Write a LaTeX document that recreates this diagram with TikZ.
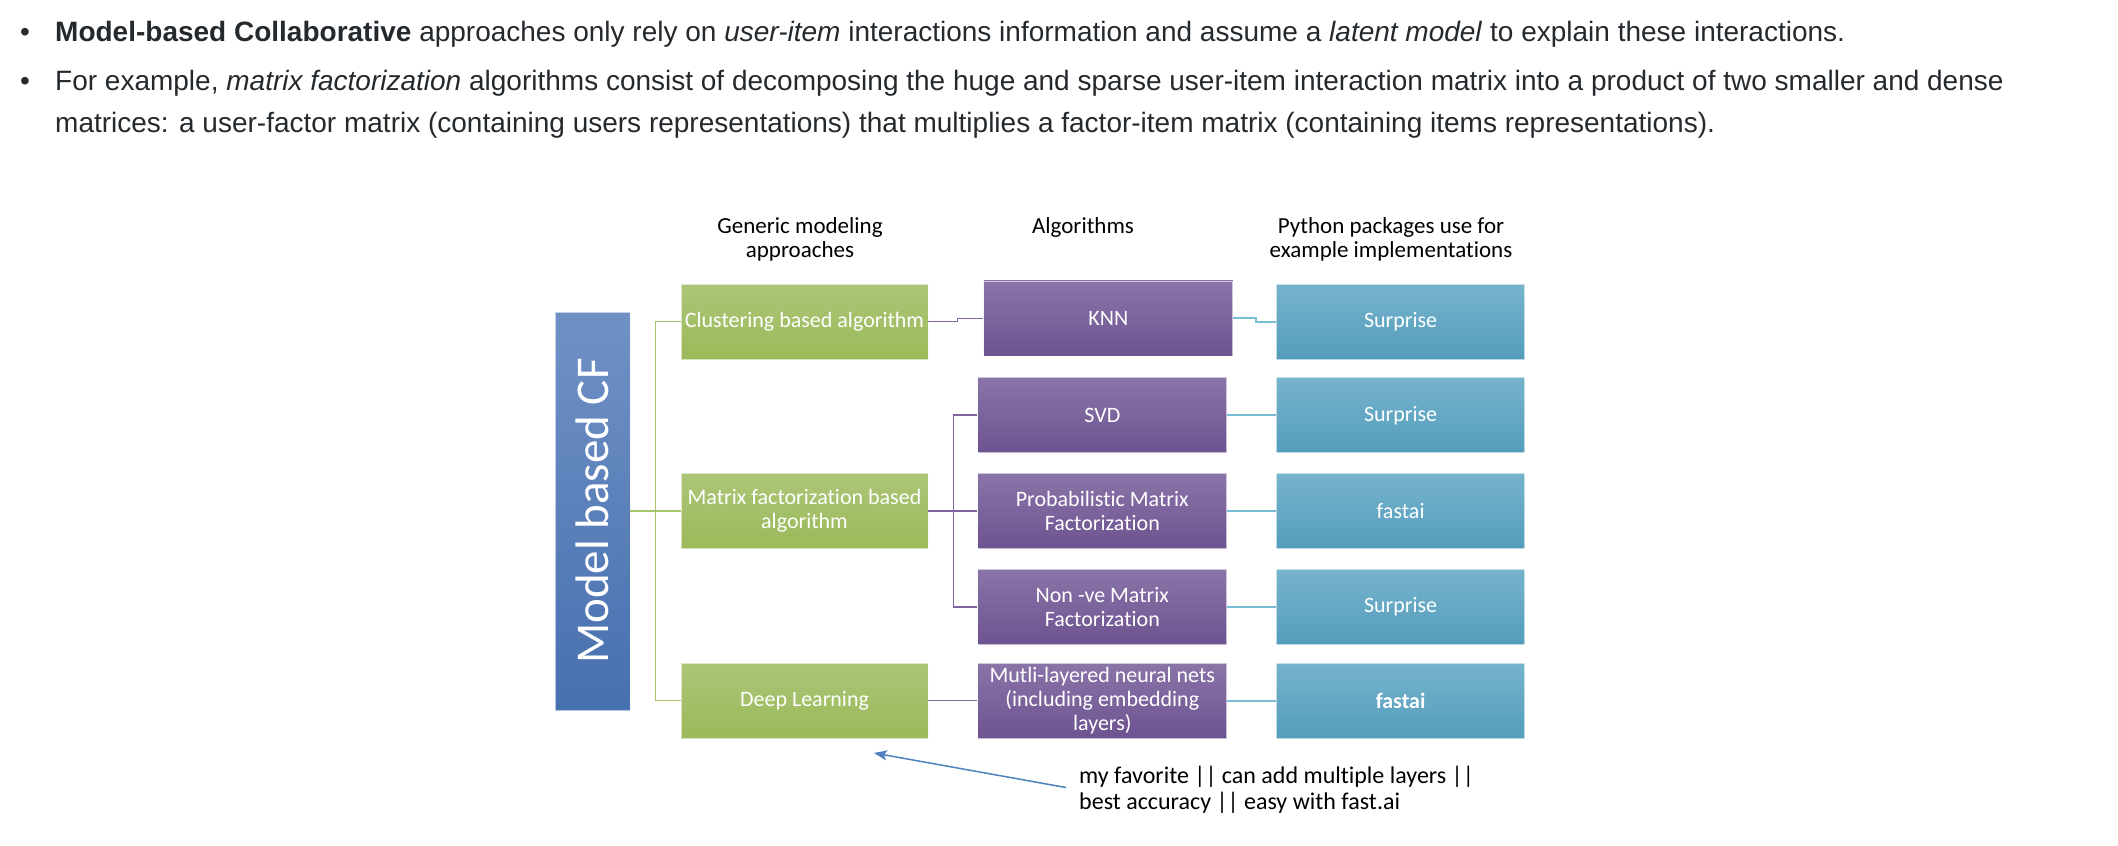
\documentclass[tikz,border=0pt]{standalone}
\usepackage{fontspec}
\setmainfont{Liberation Sans}
\newfontfamily\calibri[Ligatures=NoCommon]{Carlito}
\usetikzlibrary{positioning,arrows.meta}
\definecolor{txtgray}{RGB}{36,41,46}
\definecolor{grtop}{RGB}{172,197,120}
\definecolor{grbot}{RGB}{155,186,89}
\definecolor{putop}{RGB}{138,116,168}
\definecolor{pubot}{RGB}{109,83,144}
\definecolor{bltop}{RGB}{118,179,205}
\definecolor{blbot}{RGB}{84,157,187}
\definecolor{cftop}{RGB}{112,145,197}
\definecolor{cfbot}{RGB}{71,112,175}
\definecolor{grline}{RGB}{165,196,110}
\definecolor{puline}{RGB}{128,100,162}
\definecolor{blline}{RGB}{122,190,214}
\definecolor{arrowblue}{RGB}{79,129,189}

\begin{document}
\begin{tikzpicture}[x=1pt, y=-1pt, node distance=20pt and 49pt,
  para/.style={inner sep=0, text=txtgray, font=\fontsize{28}{42}\selectfont},
  box/.style={minimum height=75pt, inner sep=2pt, align=center, text=white,
    font=\calibri\fontsize{22}{24}\selectfont, draw=white, draw opacity=0.6, line width=0.8pt},
  greenbox/.style={box, minimum width=247pt, top color=grtop, bottom color=grbot},
  purplebox/.style={box, minimum width=249pt, top color=putop, bottom color=pubot},
  bluebox/.style={box, minimum width=248pt, top color=bltop, bottom color=blbot},
  cfbox/.style={minimum width=75pt, minimum height=398pt, inner sep=0, text=white,
    font=\calibri\fontsize{47}{50}\selectfont, draw=white, draw opacity=0.6, line width=0.8pt,
    top color=cftop, bottom color=cfbot},
  headtxt/.style={inner sep=0, anchor=north, align=center, font=\calibri\fontsize{23}{24}\selectfont},
  greenline/.style={draw=grline, line width=1.6pt},
  purpleline/.style={draw=puline, line width=1.6pt},
  blueline/.style={draw=blline, line width=2pt},
  notearrow/.style={draw=arrowblue, line width=1.5pt, -{Stealth[length=13pt, width=10pt, inset=3pt]}}]
\useasboundingbox (0,0) rectangle (2118,846);

\node[para, anchor=base] (b1) at (25,41.7) {\textbullet};
\node[para, anchor=base west] (l1) at (55,41.7) {\textbf{Model-based Collaborative} approaches only rely on \textit{user-item} interactions information and assume a \textit{latent model} to explain these interactions.};
\node[para, anchor=base] (b2) at (25,90.7) {\textbullet};
\node[para, anchor=base west] (l2) at (55,90.7) {For example, \textit{matrix factorization} algorithms consist of decomposing the huge and sparse user-item interaction matrix into a product of two smaller and dense};
\node[para, anchor=base west] (l3) at (55,132.7) {matrices: a user-factor matrix (containing users representations) that multiplies a factor-item matrix (containing items representations).};

\node[headtxt] (h1) at (800,217) {Generic modeling\\approaches};
\node[headtxt] (h2) at (1083,217) {Algorithms};
\node[headtxt] (h3) at (1391,217) {Python packages use for\\example implementations};

\node[cfbox] (cf) at (592.5,511) {\rotatebox{90}{Model based CF}};

\node[greenbox] (clust) at (804.5,321.5) {Clustering based algorithm};
\node[greenbox] (mf) at (804.5,511) {Matrix factorization based\\algorithm};
\node[greenbox] (dl) at (804.5,700.5) {Deep Learning};

\node[purplebox, right=of mf] (pmf) {Probabilistic Matrix\\Factorization};
\node[purplebox, above=of pmf] (svd) {SVD};
\node[purplebox, below=of pmf] (nmf) {Non -ve Matrix\\Factorization};
\node[purplebox, above=21pt of svd, xshift=6pt] (knn) {KNN};
\node[purplebox, right=of dl] (mln) {Mutli-layered neural nets\\(including embedding\\layers)};

\node[bluebox, right=of svd] (pk2) {Surprise};
\node[bluebox] (pk1) at (pk2 |- clust) {Surprise};
\node[bluebox, right=of pmf] (pk3) {fastai};
\node[bluebox, right=of nmf] (pk4) {Surprise};
\node[bluebox, right=of mln] (pk5) {\textbf{fastai}};

\draw[greenline] (cf.east) -- (mf.west);
\draw[greenline] (clust.west) -- ++(-25,0) |- (dl.west);
\draw[purpleline] (clust.east) -- ++(29,0) |- (knn.west);
\draw[purpleline] (mf.east) -- (pmf.west);
\draw[purpleline] (svd.west) -- ++(-24,0) |- (nmf.west);
\draw[purpleline] (dl) -- (mln);
\draw[blueline] (knn.east) -- ++(23,0) |- (pk1.west);
\draw[blueline] (svd) -- (pk2);
\draw[blueline] (pmf) -- (pk3);
\draw[blueline] (nmf) -- (pk4);
\draw[blueline] (mln) -- (pk5);

\node[inner sep=0, anchor=north west, align=left, font=\calibri\fontsize{24}{26}\selectfont] (note) at (1079,766) {my favorite || can add multiple layers ||\\best accuracy || easy with fast.ai};
\coordinate (favtip) at (874,753);
\draw[notearrow, shorten <=13pt] (note.west) -- (favtip);
\end{tikzpicture}
\end{document}
